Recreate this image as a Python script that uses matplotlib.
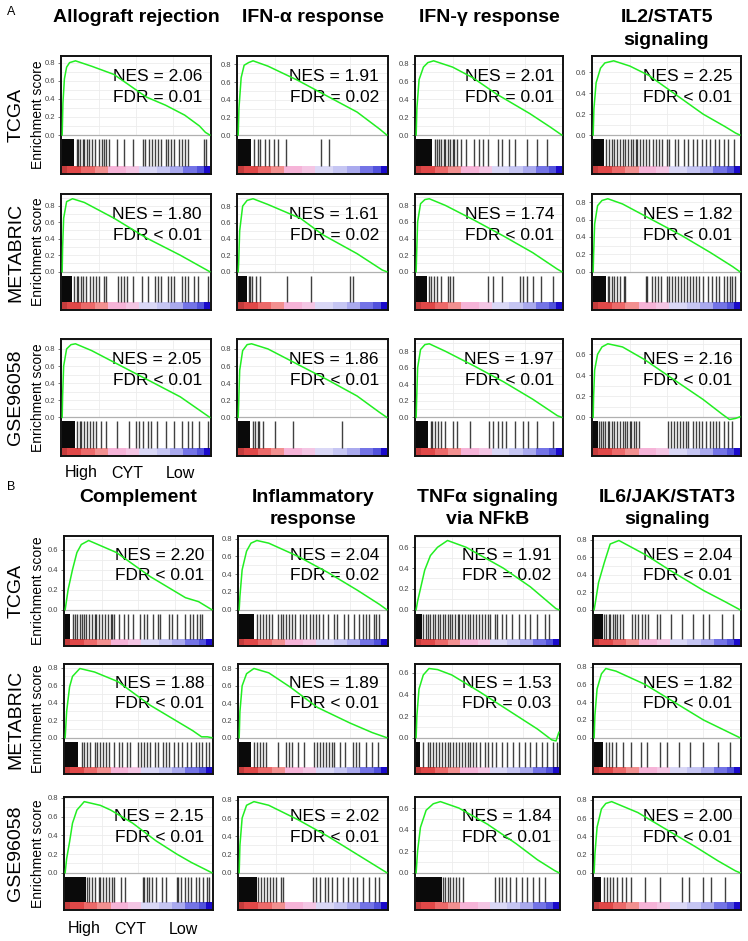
import numpy as np
import matplotlib
matplotlib.use('Agg')
import matplotlib.pyplot as plt

plt.rcParams['font.family'] = ['Liberation Sans', 'DejaVu Sans']

W, H = 748, 941

cohorts = ['TCGA', 'METABRIC', 'GSE96058']
titles_a = ['Allograft rejection', 'IFN-α response', 'IFN-γ response', 'IL2/STAT5\nsignaling']
titles_b = ['Complement', 'Inflammatory\nresponse', 'TNFα signaling\nvia NFkB', 'IL6/JAK/STAT3\nsignaling']

nes_a = [[2.06, 1.91, 2.01, 2.25], [1.80, 1.61, 1.74, 1.82], [2.05, 1.86, 1.97, 2.16]]
fdr_a = [['= 0.01', '= 0.02', '= 0.01', '< 0.01'],
         ['< 0.01', '= 0.02', '< 0.01', '< 0.01'],
         ['< 0.01', '< 0.01', '< 0.01', '< 0.01']]
nes_b = [[2.20, 2.04, 1.91, 2.04], [1.88, 1.89, 1.53, 1.82], [2.15, 2.02, 1.84, 2.00]]
fdr_b = [['< 0.01', '= 0.02', '= 0.02', '< 0.01'],
         ['< 0.01', '< 0.01', '= 0.03', '< 0.01'],
         ['< 0.01', '< 0.01', '< 0.01', '< 0.01']]

# running enrichment score, (rank fraction, ES)
es_A_TCGA = [
    ([0, .005, .015, .03, .05, .09, .2, .35, .57, .7, .83, .93, .97, 1],
     [0, .35, .62, .75, .8, .82, .76, .67, .42, .33, .22, .1, .03, 0]),
    ([0, .005, .02, .04, .07, .1, .2, .4, .6, .8, .95, 1],
     [0, .3, .65, .79, .82, .84, .78, .62, .44, .26, .07, 0]),
    ([0, .005, .02, .05, .08, .12, .25, .39, .55, .78, .92, 1],
     [0, .3, .62, .76, .81, .83, .76, .64, .46, .24, .09, 0]),
    ([0, .005, .02, .05, .08, .14, .25, .38, .59, .75, .9, .97, 1],
     [0, .25, .5, .64, .69, .71, .66, .57, .36, .2, .08, .02, 0]),
]
es_A_METABRIC = [
    ([0, .003, .01, .03, .07, .15, .35, .57, .8, .95, 1],
     [0, .3, .65, .85, .885, .84, .65, .41, .2, .05, 0]),
    ([0, .003, .01, .03, .06, .1, .2, .42, .57, .8, .97, 1],
     [0, .1, .5, .8, .87, .89, .82, .65, .45, .22, .02, 0]),
    ([0, .003, .01, .03, .06, .09, .2, .4, .6, .8, .97, 1],
     [0, .2, .6, .82, .87, .88, .8, .62, .43, .23, .03, 0]),
    ([0, .003, .01, .03, .06, .1, .2, .4, .6, .8, .95, 1],
     [0, .2, .55, .76, .82, .84, .78, .6, .42, .22, .06, 0]),
]
es_A_GSE96058 = [
    ([0, .003, .01, .03, .06, .09, .2, .4, .6, .8, .95, 1],
     [0, .25, .6, .8, .85, .86, .78, .6, .42, .24, .06, 0]),
    ([0, .003, .01, .03, .06, .09, .2, .4, .6, .8, .95, 1],
     [0, .15, .55, .78, .85, .86, .8, .62, .44, .25, .06, 0]),
    ([0, .003, .01, .03, .06, .09, .2, .4, .6, .8, .97, 1],
     [0, .2, .6, .82, .88, .89, .8, .62, .43, .22, .02, 0]),
    ([0, .003, .01, .03, .06, .1, .2, .35, .57, .75, .88, .93, .97, 1],
     [0, .2, .45, .6, .67, .70, .67, .55, .34, .17, .03, -.02, -.01, .005]),
]
es_B_TCGA = [
    ([0, .01, .02, .05, .08, .11, .16, .35, .58, .82, .91, 1],
     [0, .1, .2, .4, .57, .65, .69, .57, .33, .12, .08, 0]),
    ([0, .005, .02, .05, .08, .12, .2, .4, .6, .8, .95, 1],
     [0, .15, .45, .66, .75, .78, .75, .6, .42, .22, .06, 0]),
    ([0, .01, .03, .06, .1, .15, .22, .35, .61, .8, .98, 1],
     [0, .08, .2, .38, .52, .6, .665, .6, .4, .22, .01, 0]),
    ([0, .01, .03, .07, .11, .17, .36, .52, .75, .9, 1],
     [0, .1, .31, .54, .75, .79, .62, .45, .22, .09, 0]),
]
es_B_METABRIC = [
    ([0, .01, .03, .05, .1, .2, .36, .58, .75, .87, .93, .97, 1],
     [0, .3, .58, .7, .79, .75, .64, .37, .2, .08, .01, .01, 0]),
    ([0, .005, .02, .05, .1, .2, .35, .53, .75, .9, 1],
     [0, .3, .6, .74, .80, .75, .58, .35, .17, .06, 0]),
    ([0, .005, .02, .05, .09, .15, .25, .45, .65, .85, .95, .98, 1],
     [0, .2, .45, .58, .64, .63, .58, .42, .25, .08, -.02, -.03, .05]),
    ([0, .005, .02, .05, .08, .15, .35, .55, .75, .9, 1],
     [0, .25, .55, .72, .78, .75, .6, .4, .2, .08, 0]),
]
es_B_GSE96058 = [
    ([0, .01, .03, .05, .08, .13, .24, .31, .46, .62, .76, .86, 1],
     [0, .15, .33, .53, .67, .76, .72, .67, .53, .34, .2, .11, 0]),
    ([0, .005, .02, .05, .1, .2, .4, .6, .8, .95, 1],
     [0, .3, .6, .74, .78, .74, .58, .4, .2, .05, 0]),
    ([0, .01, .03, .07, .12, .17, .3, .5, .7, .85, .97, 1],
     [0, .2, .42, .58, .64, .66, .6, .45, .27, .12, .02, 0]),
    ([0, .005, .02, .05, .08, .12, .3, .5, .7, .85, .97, 1],
     [0, .2, .5, .7, .76, .78, .66, .47, .28, .13, .02, 0]),
]

# solid block of leading hits (rank fraction where it ends) and single hits
dense_A_TCGA = [0.08, 0.085, 0.11, 0.075]
hits_A_TCGA = [
    [.10, .11, .12, .14, .15, .17, .18, .20, .22, .25, .27, .28, .30, .32, .37, .42, .48, .55, .56,
     .59, .61, .63, .65, .67, .70, .72, .74, .76, .79, .81, .83, .85, .96, .975],
    [.105, .13, .15, .18, .21, .24, .27, .32, .56, .61],
    [.13, .14, .16, .17, .19, .20, .22, .23, .25, .26, .28, .31, .34, .40, .43, .46, .49, .56, .59,
     .64, .68, .76, .83, .90],
    [.09, .11, .13, .14, .16, .18, .20, .22, .24, .26, .27, .29, .30, .32, .34, .36, .38, .41, .43,
     .45, .47, .50, .52, .56, .58, .62, .65, .68, .71, .74, .77, .80, .83, .86, .89, .92, .96],
]
dense_A_METABRIC = [0.065, 0.06, 0.075, 0.09]
hits_A_METABRIC = [
    [.08, .10, .11, .13, .14, .16, .19, .21, .23, .25, .28, .30, .38, .40, .42, .44, .48, .54, .58,
     .63, .65, .67, .72, .74, .76, .81, .83, .85, .89, .92, .99],
    [.07, .08, .095, .12, .15, .33, .49, .75, .77],
    [.09, .10, .12, .14, .17, .22, .23, .25, .49, .53, .59, .71, .73, .76, .80, .86, .94],
    [.10, .11, .13, .14, .16, .18, .21, .22, .36, .37, .40, .42, .44, .46, .50, .52, .54, .56, .58,
     .60, .62, .64, .66, .68, .70, .72, .75, .78, .81, .84, .86, .89, .91, .93, .95, .97],
]
dense_A_GSE96058 = [0.09, 0.08, 0.08, 0.03]
hits_A_GSE96058 = [
    [.10, .12, .13, .15, .17, .19, .21, .23, .26, .30, .37, .45, .50, .52, .55, .58, .60, .64, .70,
     .76, .81, .85, .88, .93, .99],
    [.10, .11, .13, .14, .17, .25, .37, .70],
    [.10, .11, .13, .15, .17, .20, .25, .28, .37, .50, .53, .56, .59, .62, .68, .73, .77, .83, .94],
    [.04, .05, .07, .08, .10, .11, .13, .14, .16, .18, .20, .22, .23, .25, .26, .28, .29, .31, .51,
     .53, .55, .57, .59, .61, .63, .65, .68, .70, .72, .74, .77, .80, .82, .84, .86, .89, .92, .95],
]
dense_B_TCGA = [0.035, 0.10, 0.04, 0.06]
hits_B_TCGA = [
    [.05, .065, .08, .10, .115, .13, .14, .16, .18, .20, .21, .23, .25, .27, .29, .31, .32, .335, .37,
     .40, .43, .46, .51, .54, .56, .60, .63, .65, .71, .73, .76, .82, .85, .87, .90, .92, .93],
    [.12, .14, .16, .18, .20, .22, .26, .28, .30, .32, .34, .36, .38, .41, .43, .45, .48, .50, .52,
     .54, .57, .60, .64, .66, .71, .74, .78, .81, .84, .86, .88, .91, .93, .95],
    [.05, .07, .08, .10, .12, .13, .15, .17, .19, .20, .22, .24, .25, .27, .29, .30, .32, .34, .36,
     .38, .40, .42, .44, .46, .48, .50, .52, .55, .57, .60, .63, .67, .72, .76, .80, .85, .90, .93],
    [.07, .08, .10, .11, .13, .14, .16, .18, .20, .26, .28, .30, .33, .35, .37, .43, .45, .53, .60,
     .68, .75, .79, .88, .95],
]
dense_B_METABRIC = [0.09, 0.08, 0.03, 0.06]
hits_B_METABRIC = [
    [.115, .13, .15, .17, .20, .22, .24, .26, .28, .30, .33, .37, .39, .42, .44, .50, .52, .54, .56,
     .58, .61, .63, .67, .69, .71, .74, .77, .80, .83, .86, .89, .91, .93, .96, .98],
    [.10, .12, .14, .16, .18, .26, .32, .34, .36, .40, .44, .51, .53, .55, .57, .59, .61, .63, .64,
     .68, .72, .77, .79, .81, .86, .90, .94],
    [.05, .08, .10, .12, .14, .16, .18, .20, .22, .24, .26, .28, .30, .32, .34, .36, .38, .40, .42,
     .45, .48, .50, .53, .56, .60, .64, .68, .72, .76, .80, .84, .88, .92, .96, .99],
    [.08, .10, .12, .15, .20, .25, .32, .36, .45, .50, .58, .66, .75, .85, .93],
]
dense_B_GSE96058 = [0.14, 0.12, 0.18, 0.05]
hits_B_GSE96058 = [
    [.15, .16, .18, .20, .23, .24, .26, .28, .30, .32, .33, .38, .41, .53, .54, .56, .57, .59, .62,
     .66, .69, .76, .77, .79, .82, .84, .86, .89, .91, .94, .97, .98],
    [.13, .15, .17, .19, .21, .23, .25, .28, .30, .50, .52, .55, .58, .60, .63, .66, .70, .74, .77,
     .80, .84, .88, .92, .95],
    [.19, .20, .22, .24, .26, .28, .30, .33, .55, .58, .60, .63, .66, .70, .74, .78, .82, .86, .90],
    [.07, .09, .11, .13, .16, .19, .22, .25, .35, .45, .60, .65, .75, .80, .90],
]

# ranked-list colour strip (high CYT -> low CYT)
cbar_edges = [0, .036, .13, .22, .31, .43, .52, .64, .73, .82, .91, .96, 1]
cbar_colors = ['#c43c3c', '#e04848', '#ec6a6a', '#f29090', '#f6b4d8', '#f4c6e4',
               '#dad8f6', '#c6c6f3', '#aaaaee', '#7474e6', '#5252dc', '#1a0acb']

# layout in pixels
cols_a = [(61, 211), (237, 388), (415, 563), (592, 741)]
cols_b = [(64, 213), (238, 388), (415, 560), (593, 741)]
rows_a = [(56, 174), (194, 310), (339, 456)]
rows_b = [(536, 646), (664, 774), (797, 910)]
ZERO = 0.33
BAR_TOP = 0.295
STRIP_TOP = 0.068

fig = plt.figure(figsize=(W / 100, H / 100), dpi=100)


def fx(x):
    return x / W


def fy(y):
    return 1 - y / H


def panel(x0, x1, y0, y1, curve, dense, hits, nes, fdr):
    ax = fig.add_axes([fx(x0), fy(y1), (x1 - x0) / W, (y1 - y0) / H])
    xs, ys = curve
    top = max(ys) * 1.065
    ax.set_xlim(-0.008, 1.008)
    ax.set_ylim(-top * ZERO / (1 - ZERO), top)
    # grid only in the running score area
    ax.hlines(np.arange(0.1, top, 0.1), -0.008, 1.008, color='#ececec', lw=0.6, zorder=0)
    ax.vlines([0.25, 0.5, 0.75], 0, top, color='#ececec', lw=0.6, zorder=0)
    ax.axhline(0, color='#b0b0b0', lw=0.9, zorder=1)
    ax.plot(xs, ys, color='#22ee22', lw=1.1, zorder=3)
    # barcode of gene set members
    tr = ax.get_xaxis_transform()
    ax.axvspan(0, dense, STRIP_TOP, BAR_TOP, color='#0a0a0a', lw=0)
    ax.vlines(hits, STRIP_TOP, BAR_TOP, transform=tr, color='#111111', lw=1.0, alpha=0.8)
    for i, c in enumerate(cbar_colors):
        ax.axvspan(cbar_edges[i], cbar_edges[i + 1], 0, STRIP_TOP, color=c, lw=0)
    ax.set_xticks([])
    ax.set_yticks(np.arange(0, top + 1e-9, 0.2))
    ax.set_yticklabels(['%.1f' % v for v in np.arange(0, top + 1e-9, 0.2)])
    ax.tick_params(axis='y', labelsize=5.5, colors='#444444', length=2, width=0.5, pad=2)
    for s in ax.spines.values():
        s.set_linewidth(1.4)
        s.set_color('#111111')
    ax.text(0.94, 0.825, 'NES = %.2f' % nes, transform=ax.transAxes, ha='right', va='center',
            fontsize=12.5, zorder=2)
    ax.text(0.94, 0.645, 'FDR ' + fdr, transform=ax.transAxes, ha='right', va='center',
            fontsize=12.5, zorder=2)
    return ax


sections = [
    (cols_a, rows_a, titles_a, nes_a, fdr_a,
     [es_A_TCGA, es_A_METABRIC, es_A_GSE96058],
     [dense_A_TCGA, dense_A_METABRIC, dense_A_GSE96058],
     [hits_A_TCGA, hits_A_METABRIC, hits_A_GSE96058], 17.5, 473, 'A', 12),
    (cols_b, rows_b, titles_b, nes_b, fdr_b,
     [es_B_TCGA, es_B_METABRIC, es_B_GSE96058],
     [dense_B_TCGA, dense_B_METABRIC, dense_B_GSE96058],
     [hits_B_TCGA, hits_B_METABRIC, hits_B_GSE96058], 497, 929, 'B', 487),
]

for cols, rows, titles, nes, fdr, es, dense, hits, ty, ly, letter, lety in sections:
    fig.text(fx(11), fy(lety), letter, fontsize=9, ha='center', va='center')
    for c, (x0, x1) in enumerate(cols):
        for k, line in enumerate(titles[c].split('\n')):
            fig.text(fx((x0 + x1) / 2), fy(ty + 23 * k), line, fontsize=14, fontweight='bold',
                     ha='center', va='center')
    for r, (y0, y1) in enumerate(rows):
        yc = (y0 + y1) / 2
        fig.text(fx(16), fy(yc), cohorts[r], fontsize=14, rotation=90, ha='center', va='center')
        fig.text(fx(37.5), fy(yc), 'Enrichment score', fontsize=10, rotation=90,
                 ha='center', va='center')
        for c, (x0, x1) in enumerate(cols):
            panel(x0, x1, y0, y1, es[r][c], dense[r][c], hits[r][c], nes[r][c], fdr[r][c])
    x0 = cols[0][0]
    for lab, xc in zip(['High', 'CYT', 'Low'], [20, 66, 119]):
        fig.text(fx(x0 + xc), fy(ly), lab, fontsize=11.5, ha='center', va='center')

fig.savefig('out.png', dpi=100)
